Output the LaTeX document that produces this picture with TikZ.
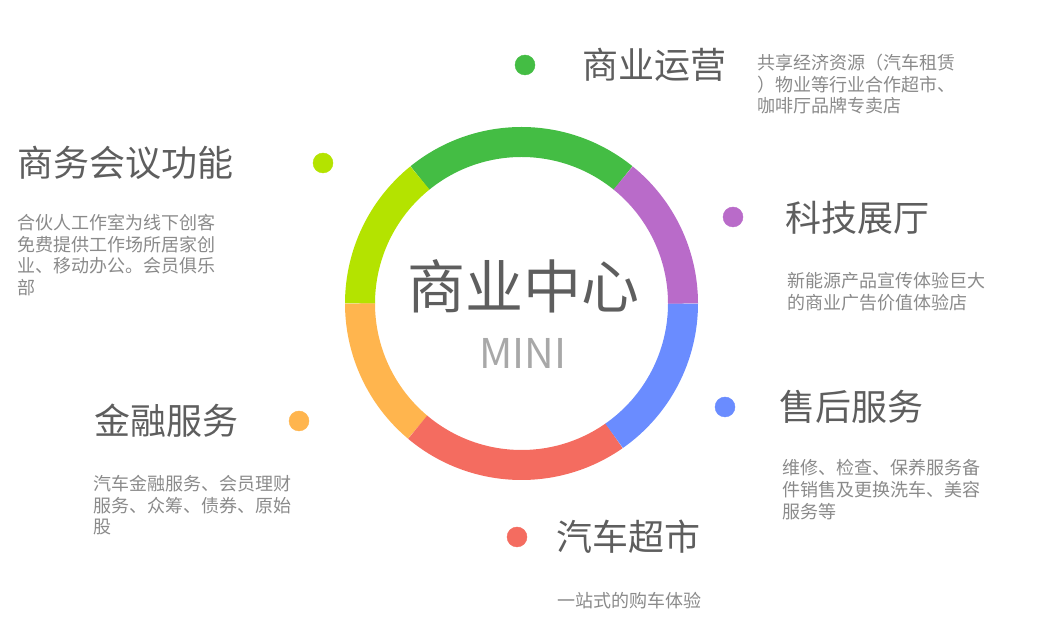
\documentclass[tikz,border=0pt]{standalone}
\usepackage{fontspec}
\setmainfont{Noto Sans CJK SC}
\usepackage{tikz}

\definecolor{ringgreen}{HTML}{44BD44}
\definecolor{ringlime}{HTML}{B4E300}
\definecolor{ringpurple}{HTML}{B96BC9}
\definecolor{ringblue}{HTML}{6A8CFF}
\definecolor{ringred}{HTML}{F46C60}
\definecolor{ringorange}{HTML}{FFB54E}
\definecolor{titlegray}{HTML}{5E5E5E}
\definecolor{descgray}{HTML}{8A8A8A}
\definecolor{minigray}{HTML}{A8A8A8}

\begin{document}
\begin{tikzpicture}[x=1pt,y=1pt,
  title/.style={anchor=west,inner sep=0pt,text=titlegray,font=\fontsize{36}{40}\selectfont},
  desc/.style={anchor=north west,inner sep=0pt,align=left,text=descgray,font=\fontsize{18}{21.7}\selectfont}]
\useasboundingbox (0,0) rectangle (1057,644);
\coordinate (c) at (521.5,340.5);
% ring
\foreach \a/\b/\col in {51/129/ringgreen,129/180/ringlime,180/230/ringorange,
  230/305/ringred,305/360/ringblue,360/411/ringpurple}{
\draw[\col,line width=30pt] (c) ++(\a:161.5) arc[start angle=\a,end angle=\b,radius=161.5];
}
\node[text=titlegray,font=\fontsize{58}{62}\selectfont] (center) at (523,358) {商业中心};
\node[text=minigray,font=\fontsize{41}{44}\selectfont] (mini) at (523,291) {MINI};
% dots
\foreach \x/\y/\col in {525/579/ringgreen,323/481/ringlime,733/427/ringpurple,
  725/237/ringblue,299/223/ringorange,517/107/ringred}{
\filldraw[\col] (\x,\y) circle (10);
}
% titles
\node[title] (yunying) at (582,579) {商业运营};
\node[title] (huiyi) at (17,481) {商务会议功能};
\node[title] (keji) at (785,426) {科技展厅};
\node[title] (shouhou) at (779,237) {售后服务};
\node[title] (jinrong) at (94,223) {金融服务};
\node[title] (chaoshi) at (556,107) {汽车超市};
% texts
\node[desc] (yunying-t) at (757,590) {共享经济资源（汽车租赁\\）物业等行业合作超市、\\咖啡厅品牌专卖店};
\node[desc] (huiyi-t) at (17,430) {合伙人工作室为线下创客\\免费提供工作场所居家创\\业、移动办公。会员俱乐\\部};
\node[desc] (keji-t) at (787,372) {新能源产品宣传体验巨大\\的商业广告价值体验店};
\node[desc] (shouhou-t) at (782,184.5) {维修、检查、保养服务备\\件销售及更换洗车、美容\\服务等};
\node[desc] (jinrong-t) at (93,169) {汽车金融服务、会员理财\\服务、众筹、债券、原始\\股};
\node[desc] (chaoshi-t) at (557,52) {一站式的购车体验};
\end{tikzpicture}
\end{document}
